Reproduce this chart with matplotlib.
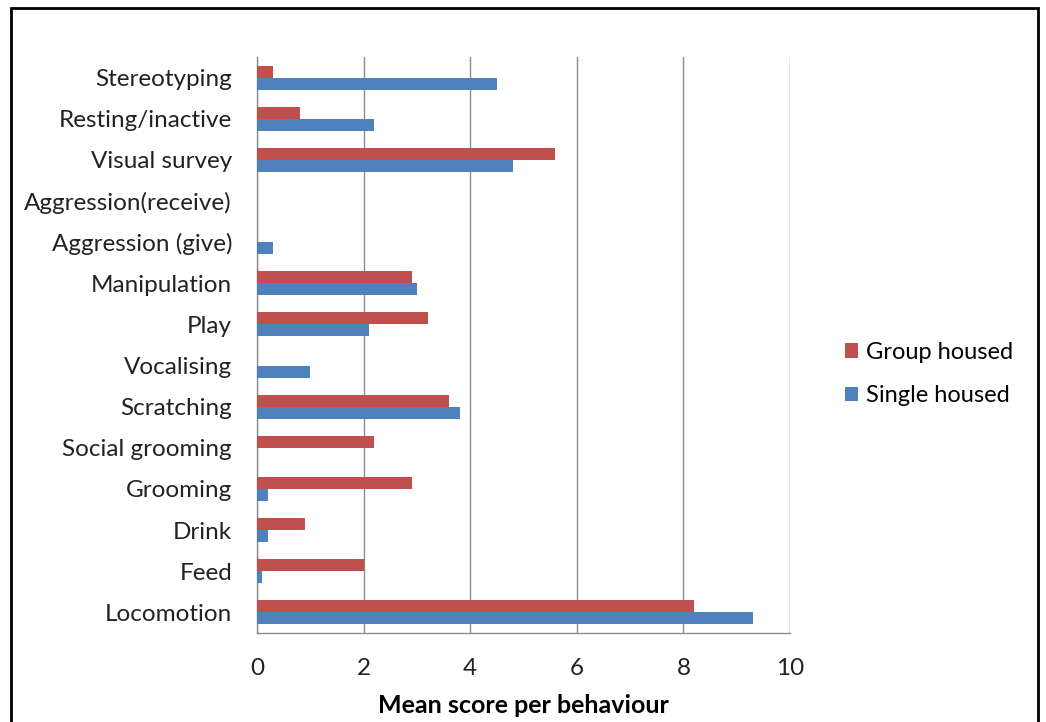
import matplotlib.pyplot as plt
from matplotlib.patches import Rectangle
import numpy as np

plt.rcParams['font.family'] = ['Lato', 'DejaVu Sans']

# behaviours, bottom to top
behaviours = [
    "Locomotion", "Feed", "Drink", "Grooming", "Social grooming",
    "Scratching", "Vocalising", "Play", "Manipulation", "Aggression (give)",
    "Aggression(receive)", "Visual survey", "Resting/inactive", "Stereotyping",
]
group_housed = [8.2, 2.0, 0.9, 2.9, 2.2, 3.6, 0.0, 3.2, 2.9, 0.0, 0.0, 5.6, 0.8, 0.3]
single_housed = [9.3, 0.1, 0.2, 0.2, 0.0, 3.8, 1.0, 2.1, 3.0, 0.3, 0.0, 4.8, 2.2, 4.5]
x_ticks = [0, 2, 4, 6, 8, 10]

red = "#C0504D"
blue = "#4F81BD"

fig = plt.figure(figsize=(10.46, 7.22), dpi=100)
ax = fig.add_axes([257 / 1046, 1 - 633 / 722, (790 - 257) / 1046, (633 - 57) / 722])

y = np.arange(len(behaviours))
h = 0.29
b1 = ax.barh(y + h / 2, group_housed, height=h, color=red, label="Group housed", zorder=3)
b2 = ax.barh(y - h / 2, single_housed, height=h, color=blue, label="Single housed", zorder=3)

ax.set_xlim(0, 10)
ax.set_ylim(-0.5, len(behaviours) - 0.5)
ax.set_xticks(x_ticks)
ax.set_xticklabels([str(t) for t in x_ticks])
ax.set_yticks(y)
ax.set_yticklabels(behaviours)
ax.tick_params(axis="both", length=0, labelsize=17.5, colors="#222222")
ax.tick_params(axis="x", pad=18)
ax.tick_params(axis="y", pad=18)

ax.grid(True, axis="x", color="#8c8c8c", lw=1.0, zorder=0)
for s in ["top", "right"]:
    ax.spines[s].set_visible(False)
for s in ["left", "bottom"]:
    ax.spines[s].set_color("#8c8c8c")
    ax.spines[s].set_linewidth(1.0)

ax.set_xlabel("Mean score per behaviour", fontsize=18, fontweight="bold", labelpad=11)

fig.legend(
    [b1, b2], ["Group housed", "Single housed"],
    loc="center left", bbox_to_anchor=(824 / 1046, 1 - 374 / 722),
    frameon=False, fontsize=17, handlelength=0.55, handleheight=0.55,
    handletextpad=0.35, labelspacing=0.95,
)

# outer frame
fig.patches.append(Rectangle((11 / 1046, -0.05), (1038 - 11) / 1046, 1.05 - 8 / 722,
                             transform=fig.transFigure, fill=False,
                             edgecolor="black", lw=2.0))

fig.savefig("out.png", dpi=100)
